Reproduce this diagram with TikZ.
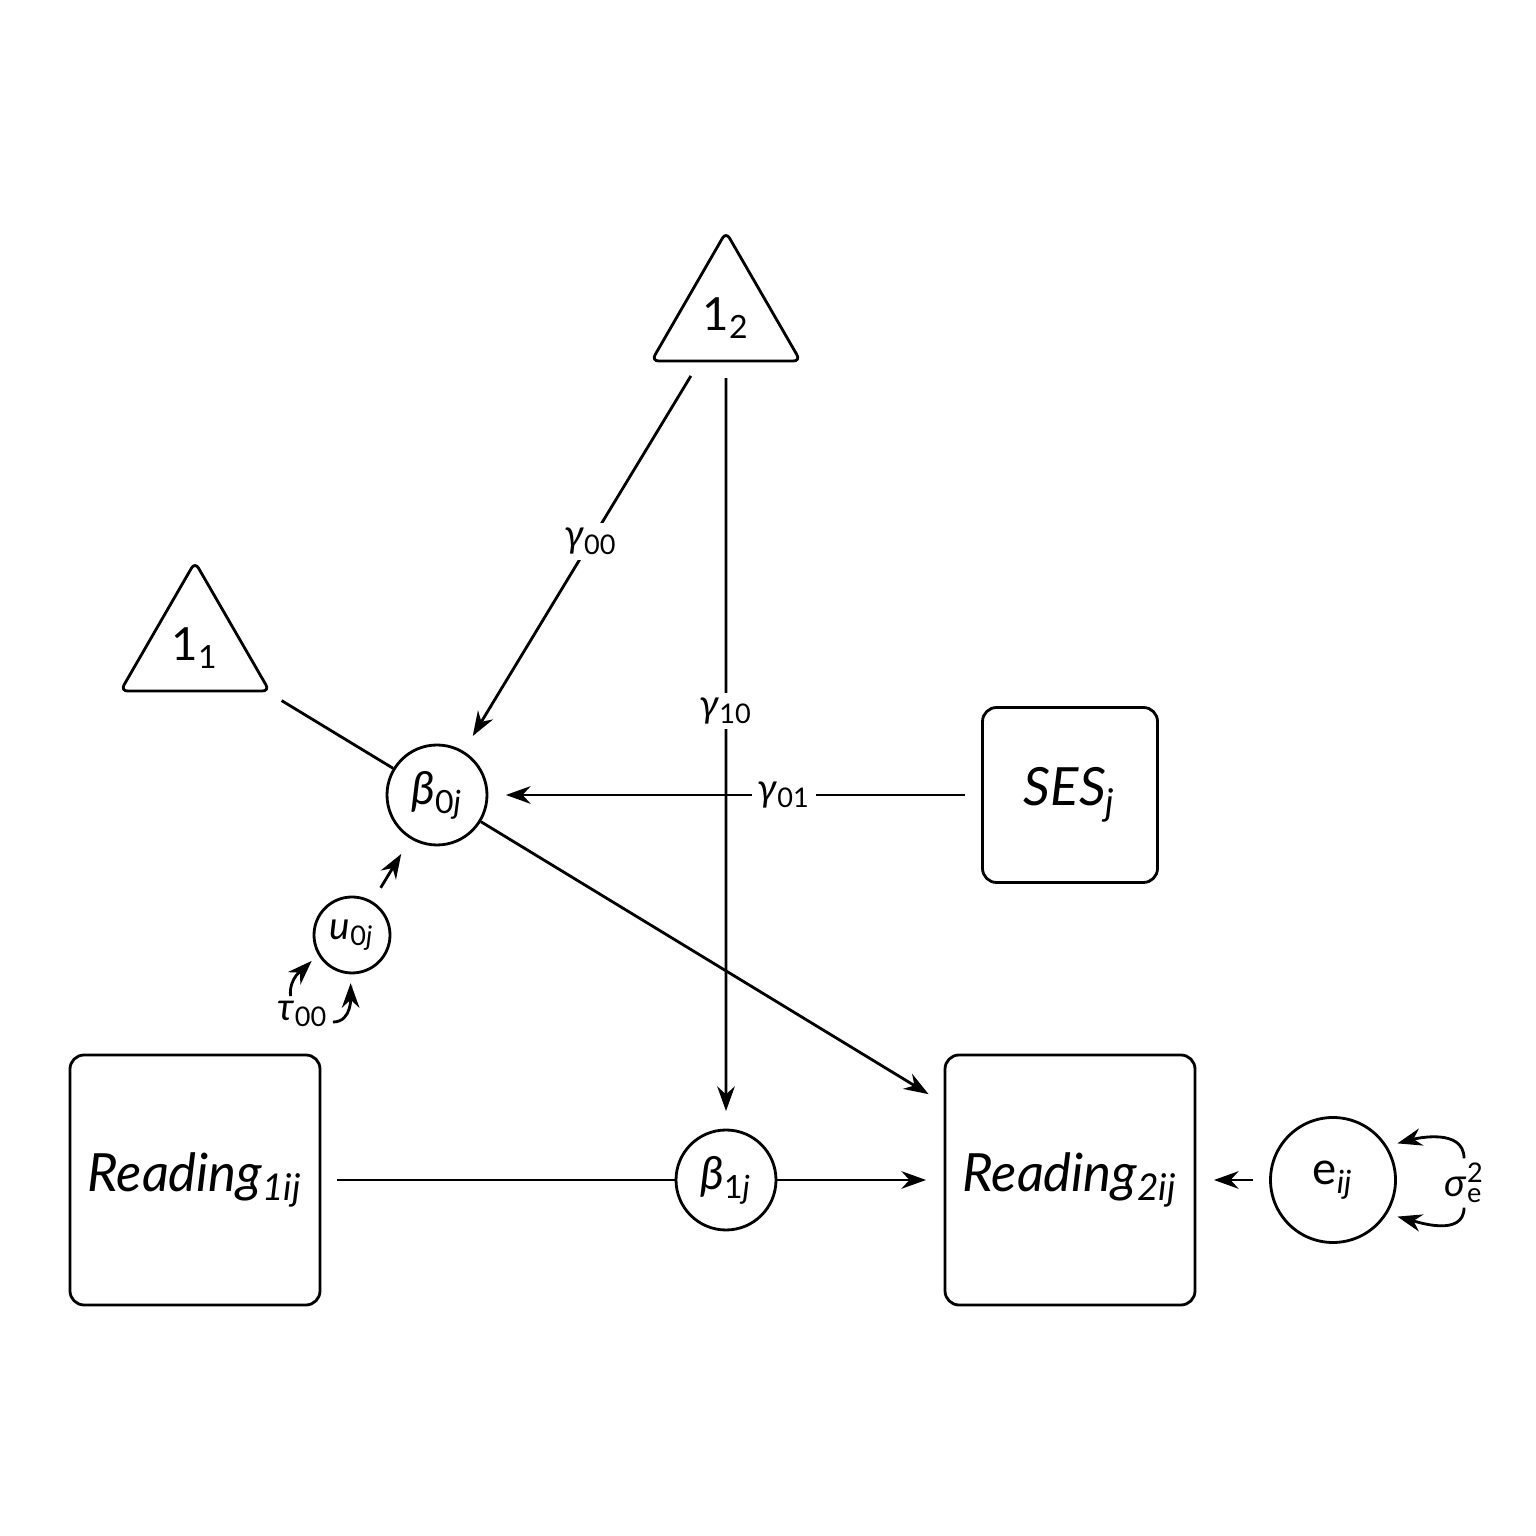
\documentclass[tikz,border=0pt]{standalone}
\usepackage{fontspec}
\setmainfont{Lato}
\usetikzlibrary{arrows.meta,shapes.geometric}

\newcommand{\lsub}[1]{\textsubscript{#1}}

\begin{document}
\begin{tikzpicture}[>={Stealth[length=7pt,width=5pt]}, thick,
  tri/.style={draw, regular polygon, regular polygon sides=3, minimum size=1.72cm,
    inner sep=0pt, rounded corners=2pt, font=\fontsize{13}{13}\selectfont},
  obs/.style={draw, rectangle, rounded corners=4pt, inner sep=0pt},
  lat/.style={draw, circle, inner sep=0pt},
  path/.style={->, shorten >=5pt, shorten <=4.5pt},
  lbl/.style={fill=white, inner sep=1.5pt, font=\fontsize{11}{11}\selectfont}]
  \useasboundingbox (0,0) rectangle (15.36,15.36);

  % level 2
  \node[tri] (one2) at (7.26,12.18) {1\lsub{2}};
  \node[tri] (one1) at (1.95,8.88) {1\lsub{1}};
  \node[lat, minimum size=1.0cm, font=\fontsize{13}{13}\selectfont] (b0) at (4.37,7.41) {\textit{β}\lsub{0\textit{j}}};
  \node[obs, minimum size=1.75cm, font=\fontsize{15}{15}\selectfont] (ses) at (10.70,7.41) {\textit{SES\lsub{j}}};
  \node[lat, minimum size=0.76cm, font=\fontsize{11}{11}\selectfont] (u0) at (3.52,6.01) {\textit{u}\lsub{0\textit{j}}};
  \node[font=\fontsize{11}{11}\selectfont, inner sep=1pt] (tau) at (3.03,5.22) {\textit{τ}\lsub{00}};

  % level 1
  \node[obs, minimum size=2.5cm, font=\fontsize{15}{15}\selectfont] (r1) at (1.95,3.56) {\textit{Reading\lsub{1ij}}};
  \node[lat, minimum size=1.0cm, font=\fontsize{13}{13}\selectfont] (b1) at (7.26,3.56) {\textit{β}\lsub{1\textit{j}}};
  \node[obs, minimum size=2.5cm, font=\fontsize{15}{15}\selectfont] (r2) at (10.70,3.56) {\textit{Reading\lsub{2ij}}};
  \node[lat, minimum size=1.25cm, font=\fontsize{13}{13}\selectfont] (e) at (13.33,3.56) {e\lsub{\textit{ij}}};
  \node[font=\fontsize{11}{11}\selectfont, inner sep=1pt] (sig) at (14.64,3.53) {\textit{σ}\rlap{\textsuperscript{2}}\textsubscript{e}};

  \path (one2) edge[path] node[lbl, pos=0.46] {\textit{γ}\lsub{00}} (b0)
               edge[path] node[lbl, pos=0.455] {\textit{γ}\lsub{10}} (b1)
        (ses)  edge[path] node[lbl, pos=0.4] {\textit{γ}\lsub{01}} (b0)
        (one1) edge[shorten <=4.5pt] (b0)
        (b0)   edge[path, shorten <=0pt] (r2)
        (r1)   edge[shorten <=4.5pt] (b1)
        (b1)   edge[path, shorten <=0pt] (r2)
        (e)    edge[path] (r2)
        (u0)   edge[path] (b0);

  % variances
  \draw[->, shorten >=2.5pt] (tau.125) to[out=95, in=225] (u0.210);
  \draw[->, shorten >=2.5pt] (tau.-15) to[out=0, in=270] (u0.268);
  \draw[->, shorten >=3pt] (sig.north) to[out=90, in=15] (e.32);
  \draw[->, shorten >=3pt] (sig.south) to[out=270, in=-15] (e.-32);
\end{tikzpicture}
\end{document}
